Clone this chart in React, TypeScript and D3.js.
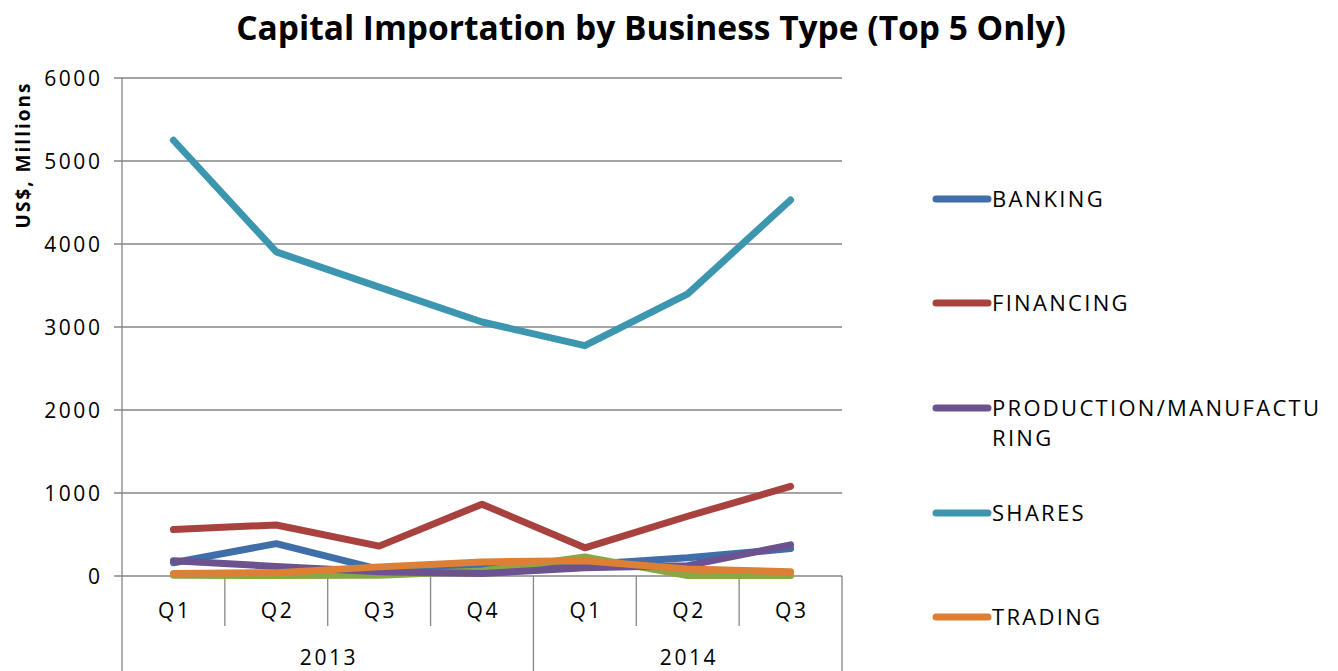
import React from "react";
import * as d3 from "d3";

const quarters = ["Q1", "Q2", "Q3", "Q4", "Q1", "Q2", "Q3"];
const years = [
  { label: "2013", start: 0, end: 4 },
  { label: "2014", start: 4, end: 7 },
];
const yTicks = [0, 1000, 2000, 3000, 4000, 5000, 6000];

const banking = [160, 390, 80, 130, 140, 220, 330];
const financing = [560, 615, 360, 865, 340, 720, 1080];
const other = [10, 5, 10, 60, 230, 5, 5];
const production = [185, 115, 50, 30, 100, 125, 375];
const shares = [5250, 3905, 3480, 3060, 2775, 3400, 4530];
const trading = [30, 40, 110, 170, 185, 85, 50];

const series = [
  { name: "BANKING", values: banking, color: "#3f6ea8", legend: true },
  { name: "FINANCING", values: financing, color: "#a8423f", legend: true },
  { name: "OTHER", values: other, color: "#86a845", legend: false },
  { name: "PRODUCTION/MANUFACTURING", values: production, color: "#6c5390", legend: true },
  { name: "SHARES", values: shares, color: "#3d96b0", legend: true },
  { name: "TRADING", values: trading, color: "#dd8035", legend: true },
];

const legendLines: Record<string, string[]> = {
  "PRODUCTION/MANUFACTURING": ["PRODUCTION/MANUFACTU", "RING"],
};

export default function App() {
  const W = 1338;
  const H = 671;
  const left = 122;
  const right = 842;
  const top = 78;
  const bottom = 576;
  const band = d3
    .scaleBand<number>()
    .domain(d3.range(quarters.length))
    .range([left, right])
    .paddingInner(0)
    .paddingOuter(0);
  const y = d3.scaleLinear().domain([0, 6000]).range([bottom, top]);
  const xc = (i: number) => (band(i) as number) + band.bandwidth() / 2;
  const line = d3
    .line<number>()
    .x((_, i) => xc(i))
    .y((d) => y(d));
  const font = "'Open Sans', sans-serif";
  const grid = "#868686";
  const legendItems = series.filter((s) => s.legend);
  const legendY = [199, 303, 408, 513, 617];
  const ls = 2.6;

  return (
    <svg
      width={W}
      height={H}
      style={{ position: "absolute", left: 0, top: 0, background: "#fff" }}
    >
      <text
        x={651}
        y={40}
        textAnchor="middle"
        fontFamily={font}
        fontWeight={700}
        fontSize={33.5}
        fill="#000"
      >
        Capital Importation by Business Type (Top 5 Only)
      </text>
      <text
        transform={`translate(30,156) rotate(-90)`}
        textAnchor="middle"
        fontFamily={font}
        fontWeight="bold"
        fontSize={19}
        letterSpacing={2}
        dx={1}
        fill="#000"
      >
        US$, Millions
      </text>
      {yTicks.map((t) => (
        <g key={t}>
          <line x1={114} x2={right} y1={y(t)} y2={y(t)} stroke={grid} strokeWidth={1.3} />
          <text
            x={100 + ls}
            y={y(t) + 7.5}
            textAnchor="end"
            fontFamily={font}
            fontSize={21}
            letterSpacing={ls}
            fill="#000"
          >
            {t}
          </text>
        </g>
      ))}
      <line x1={left} x2={left} y1={top} y2={H} stroke={grid} strokeWidth={1.3} />
      {d3.range(1, quarters.length).map((i) => {
        const isYear = years.some((yr) => yr.start === i);
        return (
          <line
            key={i}
            x1={band(i) as number}
            x2={band(i) as number}
            y1={bottom}
            y2={isYear ? H : 626}
            stroke={grid}
            strokeWidth={1.3}
          />
        );
      })}
      <line x1={right} x2={right} y1={bottom} y2={H} stroke={grid} strokeWidth={1.3} />
      {quarters.map((q, i) => (
        <text
          key={i}
          x={xc(i) + ls / 2}
          y={618}
          textAnchor="middle"
          fontFamily={font}
          fontSize={21}
          letterSpacing={ls}
          fill="#000"
        >
          {q}
        </text>
      ))}
      {years.map((yr) => {
        const x0 = band(yr.start) as number;
        const x1 = yr.end >= quarters.length ? right : (band(yr.end) as number);
        return (
          <text
            key={yr.label}
            x={(x0 + x1) / 2 + ls / 2}
            y={665}
            textAnchor="middle"
            fontFamily={font}
            fontSize={21}
            letterSpacing={ls}
            fill="#000"
          >
            {yr.label}
          </text>
        );
      })}
      {series.map((s) => (
        <path
          key={s.name}
          d={line(s.values) as string}
          fill="none"
          stroke={s.color}
          strokeWidth={7}
          strokeLinejoin="round"
          strokeLinecap="round"
        />
      ))}
      {legendItems.map((s, i) => {
        const ly = legendY[i];
        const lines = legendLines[s.name] || [s.name];
        return (
          <g key={s.name}>
            <line
              x1={936}
              x2={988}
              y1={ly}
              y2={ly}
              stroke={s.color}
              strokeWidth={7}
              strokeLinecap="round"
            />
            {lines.map((t, j) => (
              <text
                key={j}
                x={992}
                y={ly + 8 + j * 30}
                fontFamily={font}
                fontSize={22}
                letterSpacing={2.3}
                fill="#000"
              >
                {t}
              </text>
            ))}
          </g>
        );
      })}
    </svg>
  );
}
